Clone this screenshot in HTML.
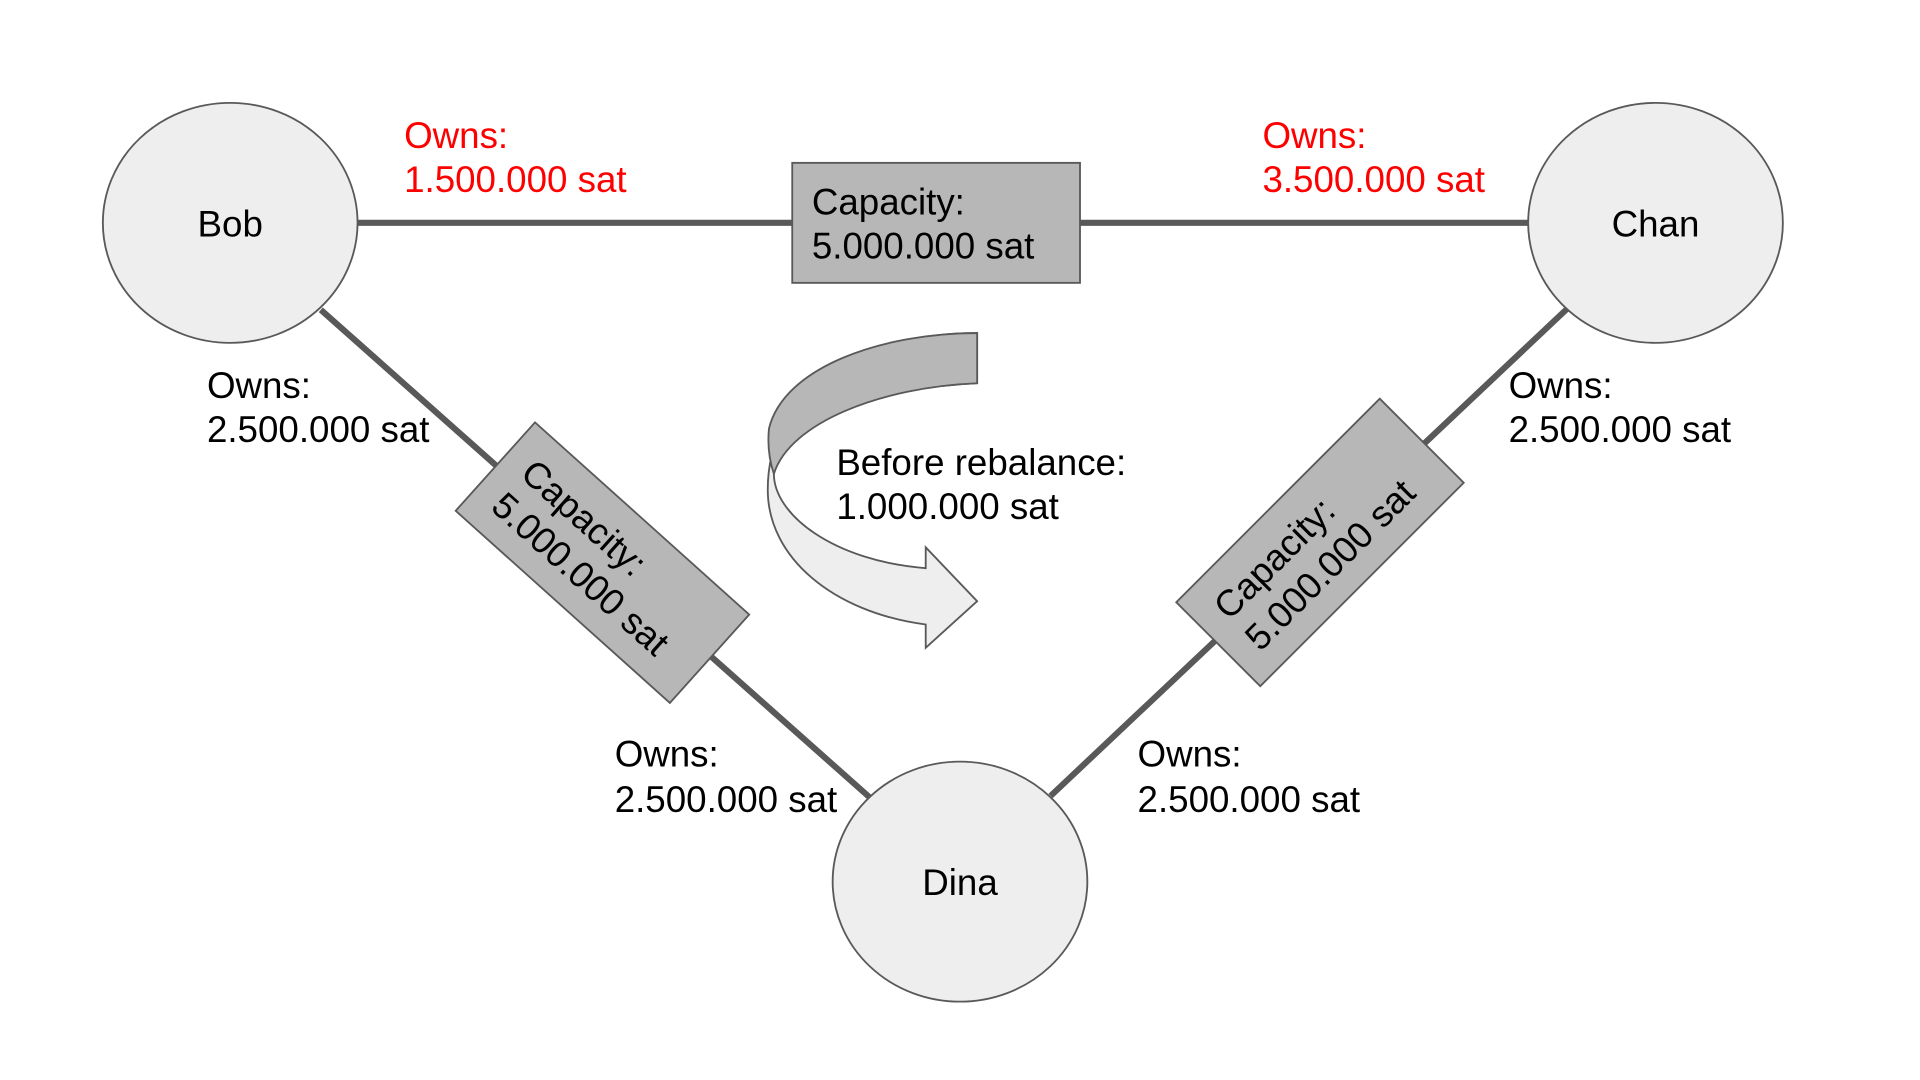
<!DOCTYPE html>
<html><head><meta charset="utf-8"><style>
html,body{margin:0;padding:0;background:#fff;width:1920px;height:1080px;overflow:hidden}
svg{display:block}
text{font-family:"Liberation Sans",Arial,sans-serif;font-size:30px;fill:#000}
.r{fill:#ff0000}
</style></head><body>
<svg width="1920" height="1080" viewBox="0 0 1568 882" preserveAspectRatio="none">
<g stroke="#595959" stroke-width="5" stroke-linecap="butt">
<line x1="292" y1="182" x2="1248" y2="182"/>
<line x1="262" y1="253" x2="710" y2="651"/>
<line x1="1280" y1="252" x2="858" y2="650"/>
</g>
<g fill="#eeeeee" stroke="#595959" stroke-width="1.5">
<ellipse cx="188" cy="182" rx="104" ry="98"/>
<ellipse cx="1352" cy="182" rx="104" ry="98"/>
<ellipse cx="784" cy="720" rx="104" ry="98"/>
</g>
<rect x="647" y="133" width="235" height="98" fill="#b7b7b7" stroke="#595959" stroke-width="1.5"/>
<g transform="translate(492,459.5) rotate(41.9)">
<rect x="-117.5" y="-48.5" width="235" height="97" fill="#b7b7b7" stroke="#595959" stroke-width="1.5"/>
<text x="-98" y="-7">Capacity:</text><text x="-98" y="29">5.000.000 sat</text>
</g>
<g transform="translate(1078,443) rotate(-45)">
<rect x="-117.5" y="-48.5" width="235" height="97" fill="#b7b7b7" stroke="#595959" stroke-width="1.5"/>
<text x="-98" y="-7">Capacity:</text><text x="-98" y="29">5.000.000 sat</text>
</g>
<path d="M798,272 L798,313 C720,316 640,345 632,387 C632,420 680,458 756,464 L756,447 L798,491 L756,529 L756,510 C680,500 627,455 627,400 C627,320 700,272 798,272 Z" fill="#eeeeee" stroke="#595959" stroke-width="1.5"/>
<path d="M798,272 L798,313 C720,316 645,345 632,387 C627,372 627,360 628,350 C640,300 720,272 798,272 Z" fill="#b7b7b7" stroke="#595959" stroke-width="1.5"/>
<text x="188" y="193" text-anchor="middle">Bob</text>
<text x="1352" y="193" text-anchor="middle">Chan</text>
<text x="784" y="731" text-anchor="middle">Dina</text>
<text x="663" y="175">Capacity:</text><text x="663" y="211">5.000.000 sat</text>
<text class="r" x="330" y="121">Owns:</text><text class="r" x="330" y="157">1.500.000 sat</text>
<text class="r" x="1031" y="121">Owns:</text><text class="r" x="1031" y="157">3.500.000 sat</text>
<text x="169" y="325">Owns:</text><text x="169" y="361">2.500.000 sat</text>
<text x="1232" y="325">Owns:</text><text x="1232" y="361">2.500.000 sat</text>
<text x="502" y="626">Owns:</text><text x="502" y="663">2.500.000 sat</text>
<text x="929" y="626">Owns:</text><text x="929" y="663">2.500.000 sat</text>
<text x="683" y="388">Before rebalance:</text><text x="683" y="424">1.000.000 sat</text>
</svg>
</body></html>
